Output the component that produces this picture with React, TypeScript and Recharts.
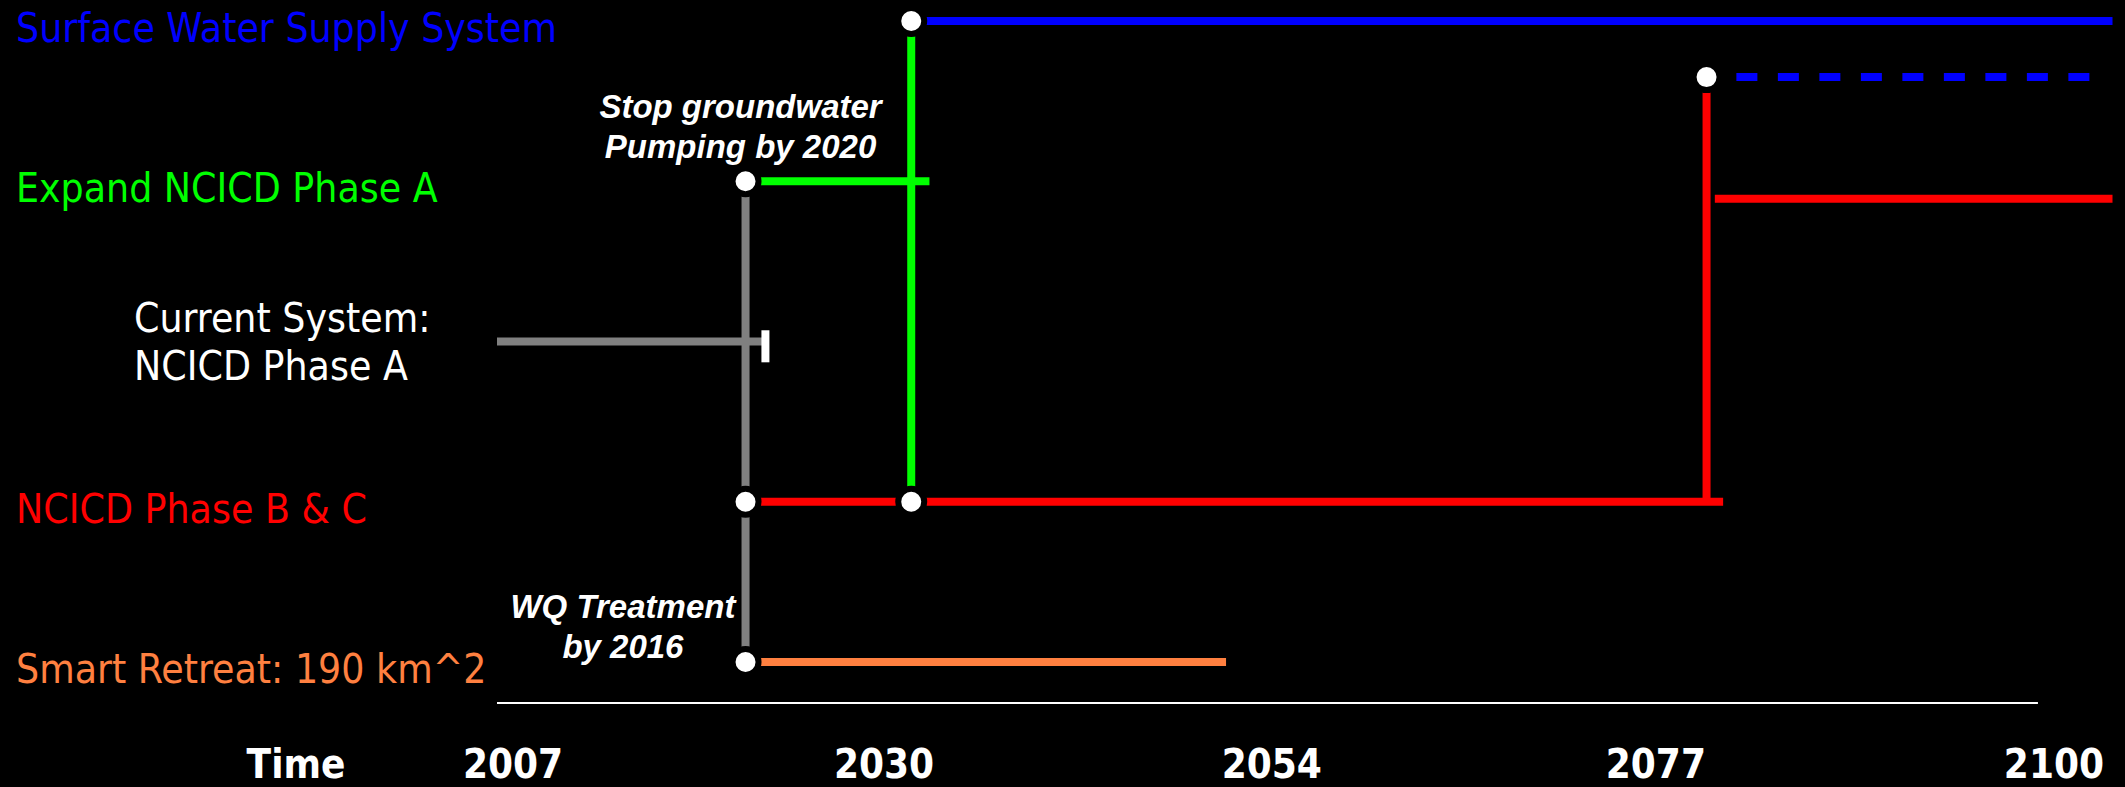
import React from "react";
import {
  ComposedChart,
  Line,
  Scatter,
  XAxis,
  YAxis,
  ReferenceLine,
} from "recharts";

// x axis: years, y axis: pathway rows (0 = bottom row)
const YEAR_TICKS = [2007, 2030, 2054, 2077, 2100];
const AXIS_TITLE = "Time";

const ROW_LEVELS = [0, 1, 2, 3, 4];
const ROW_LABELS = [
  ["Smart Retreat: 190 km^2"],
  ["NCICD Phase B & C"],
  ["Current System:", "NCICD Phase A"],
  ["Expand NCICD Phase A"],
  ["Surface Water Supply System"],
];

// pathway segments as [year, level] pairs
const CURRENT_SYSTEM = [
  { year: 2007, level: 2 },
  { year: 2023.2, level: 2 },
];
const CURRENT_SYSTEM_END = [
  { year: 2023.2, level: 1.87 },
  { year: 2023.2, level: 2.07 },
];
const DECISION_2022 = [
  { year: 2022, level: 3 },
  { year: 2022, level: 0 },
];
const EXPAND_PHASE_A = [
  { year: 2022, level: 3 },
  { year: 2033.1, level: 3 },
];
const SWITCH_TO_SURFACE = [
  { year: 2032, level: 1 },
  { year: 2032, level: 4 },
];
const SURFACE_SUPPLY = [
  { year: 2032, level: 4 },
  { year: 2104.5, level: 4 },
];
const PHASE_BC = [
  { year: 2022, level: 1 },
  { year: 2081, level: 1 },
];
const PHASE_BC_SWITCH = [
  { year: 2080, level: 1 },
  { year: 2080, level: 3.65 },
];
const PHASE_BC_LATE = [
  { year: 2080.5, level: 2.89 },
  { year: 2104.5, level: 2.89 },
];
const SURFACE_SUPPLY_LATE = [
  { year: 2081.8, level: 3.65 },
  { year: 2104.2, level: 3.65 },
];
const SMART_RETREAT = [
  { year: 2022, level: 0 },
  { year: 2051, level: 0 },
];

// decision nodes
const NODES = [
  { year: 2022, level: 3 },
  { year: 2022, level: 1 },
  { year: 2022, level: 0 },
  { year: 2032, level: 1 },
  { year: 2032, level: 4 },
  { year: 2080, level: 3.65 },
];

const NOTES = [
  { year: 2021.7, level: 3.395, lines: ["Stop groundwater", "Pumping by 2020"] },
  { year: 2014.6, level: 0.275, lines: ["WQ Treatment", "by 2016"] },
];

const Y_MIN = -0.256;
const Y_MAX = 4.131;

const ROW_COLORS = ["#FF8040", "#FF0000", "#FFFFFF", "#00FF00", "#0000FF"];
const YEAR_LABEL_NUDGE = [16, 6, -4, -1, 16];
const LABEL_FONT = "'DejaVu Sans Condensed', 'DejaVu Sans', sans-serif";
const NOTE_FONT = "'Liberation Sans', Arial, sans-serif";

function RowTick(props: any) {
  const i = ROW_LEVELS.indexOf(props.payload.value);
  const lines = ROW_LABELS[i];
  if (!lines) return null;
  const twoLine = lines.length > 1;
  const x = twoLine ? 134 : 16;
  const y = twoLine ? props.y - 9 : props.y + 21;
  return (
    <text x={x} y={y} fill={ROW_COLORS[i]} fontSize={40.5} fontFamily={LABEL_FONT} textAnchor="start">
      {lines.map((t, k) => (
        <tspan key={k} x={x} dy={k === 0 ? 0 : 48}>
          {t}
        </tspan>
      ))}
    </text>
  );
}

function YearTick(props: any) {
  const { x, y, index, payload } = props;
  const shift = YEAR_LABEL_NUDGE[index] ?? 0;
  return (
    <g>
      {index === 0 && (
        <text x={x - 201} y={y + 75} fill="#fff" fontSize={40} fontWeight="bold" fontFamily={LABEL_FONT} textAnchor="middle">
          {AXIS_TITLE}
        </text>
      )}
      <text x={x + shift} y={y + 75} fill="#fff" fontSize={40} fontWeight="bold" fontFamily={LABEL_FONT} textAnchor="middle">
        {payload.value}
      </text>
    </g>
  );
}

function NodeDot(props: any) {
  return <circle cx={props.cx} cy={props.cy} r={13} fill="#fff" stroke="#000" strokeWidth={6} />;
}

function NoteText(props: any) {
  const { cx, cy, payload } = props;
  return (
    <text x={cx} y={cy} fill="#fff" fontSize={33} fontWeight="bold" fontStyle="italic" fontFamily={NOTE_FONT} textAnchor="middle">
      {payload.lines.map((t: string, k: number) => (
        <tspan key={k} x={cx} dy={k === 0 ? 0 : 40}>
          {t}
        </tspan>
      ))}
    </text>
  );
}

const segments: { data: { year: number; level: number }[]; color: string; dash?: string }[] = [
  { data: CURRENT_SYSTEM, color: "#808080" },
  { data: DECISION_2022, color: "#808080" },
  { data: EXPAND_PHASE_A, color: "#00FF00" },
  { data: SWITCH_TO_SURFACE, color: "#00FF00" },
  { data: SURFACE_SUPPLY, color: "#0000FF" },
  { data: PHASE_BC, color: "#FF0000" },
  { data: PHASE_BC_SWITCH, color: "#FF0000" },
  { data: PHASE_BC_LATE, color: "#FF0000" },
  { data: SURFACE_SUPPLY_LATE, color: "#0000FF", dash: "21 20.5" },
  { data: SMART_RETREAT, color: "#FF8040" },
  { data: CURRENT_SYSTEM_END, color: "#FFFFFF" },
];

export default function App() {
  return (
    <div style={{ position: "absolute", left: 0, top: 0, width: 2125, height: 787, background: "#000" }}>
      <ComposedChart width={2125} height={787} margin={{ top: 0, right: 12.5, bottom: 0, left: 0 }}>
        <XAxis
          type="number"
          dataKey="year"
          domain={[2007, 2104.5]}
          ticks={YEAR_TICKS}
          interval={0}
          axisLine={false}
          tickLine={false}
          tickSize={0}
          tickMargin={0}
          height={84}
          tick={<YearTick />}
        />
        <YAxis
          type="number"
          dataKey="level"
          domain={[Y_MIN, Y_MAX]}
          ticks={ROW_LEVELS}
          interval={0}
          axisLine={false}
          tickLine={false}
          width={497}
          tick={<RowTick />}
        />
        <ReferenceLine
          segment={[
            { x: 2007, y: Y_MIN },
            { x: 2100, y: Y_MIN },
          ]}
          stroke="#fff"
          strokeWidth={2}
        />
        {segments.map((s, i) => (
          <Line
            key={i}
            id={`seg-${i}`}
            data={s.data}
            dataKey="level"
            type="linear"
            stroke={s.color}
            strokeWidth={8}
            strokeDasharray={s.dash}
            dot={false}
            activeDot={false}
            isAnimationActive={false}
          />
        ))}
        <Scatter data={NODES} dataKey="level" shape={<NodeDot />} isAnimationActive={false} />
        <Scatter data={NOTES} dataKey="level" shape={<NoteText />} isAnimationActive={false} />
      </ComposedChart>
    </div>
  );
}
